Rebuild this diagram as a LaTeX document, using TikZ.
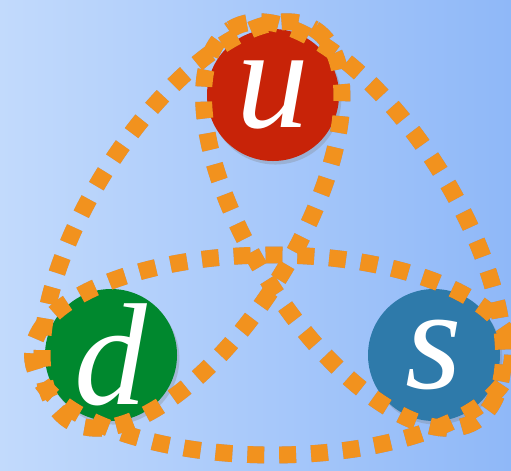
\documentclass[tikz,border=0pt]{standalone}
\usepackage{fontspec}
\setmainfont{Liberation Serif}
\usetikzlibrary{calc,shadows}
\definecolor{bgleft}{RGB}{194,218,252}
\definecolor{bgright}{RGB}{143,184,248}
\definecolor{ured}{RGB}{200,35,8}
\definecolor{dgreen}{RGB}{0,136,46}
\definecolor{sblue}{RGB}{46,122,170}
\definecolor{gluon}{RGB}{242,146,30}

\begin{document}
\begin{tikzpicture}[
  x=0.03cm,y=-0.03cm,
  quark/.style={circle,minimum size=3.96cm,inner sep=0pt,text=white,
    font=\fontsize{124}{124}\selectfont\itshape,
    drop shadow={shadow xshift=2pt,shadow yshift=-3pt,opacity=0.3}},
  tube/.style={draw=gluon,line width=14.4pt,dash pattern=on 14.4pt off 12.8pt},
  tubeshadow/.style={draw=black!70!blue,opacity=0.22,line width=14.4pt,
    dash pattern=on 14.4pt off 12.8pt,shift={(2,3)}}
]
  % background
  \shade[left color=bgleft,right color=bgright] (0,0) rectangle (511,470);
  \useasboundingbox (0,0) rectangle (511,470);

  % quarks
  \node[quark,fill=ured] (u) at (273,95) {u};
  \node[quark,fill=dgreen] (d) at (111,355) {d};
  \node[quark,fill=sblue] (s) at (434,355) {s};

  \coordinate (ud) at ($(u)!0.5!(d)$);
  \coordinate (us) at ($(u)!0.5!(s)$);
  \coordinate (ds) at ($(d)!0.5!(s)$);

  % flux tubes
  \draw[tubeshadow,rotate around={58:(ud)}] (ud) ellipse (231 and 102);
  \draw[tubeshadow,rotate around={122:(us)}] (us) ellipse (231 and 102);
  \draw[tubeshadow] (ds) ellipse (240 and 100);
  \draw[tube,rotate around={58:(ud)}] (ud) ellipse (231 and 102);
  \draw[tube,rotate around={122:(us)}] (us) ellipse (231 and 102);
  \draw[tube] (ds) ellipse (240 and 100);
\end{tikzpicture}
\end{document}
